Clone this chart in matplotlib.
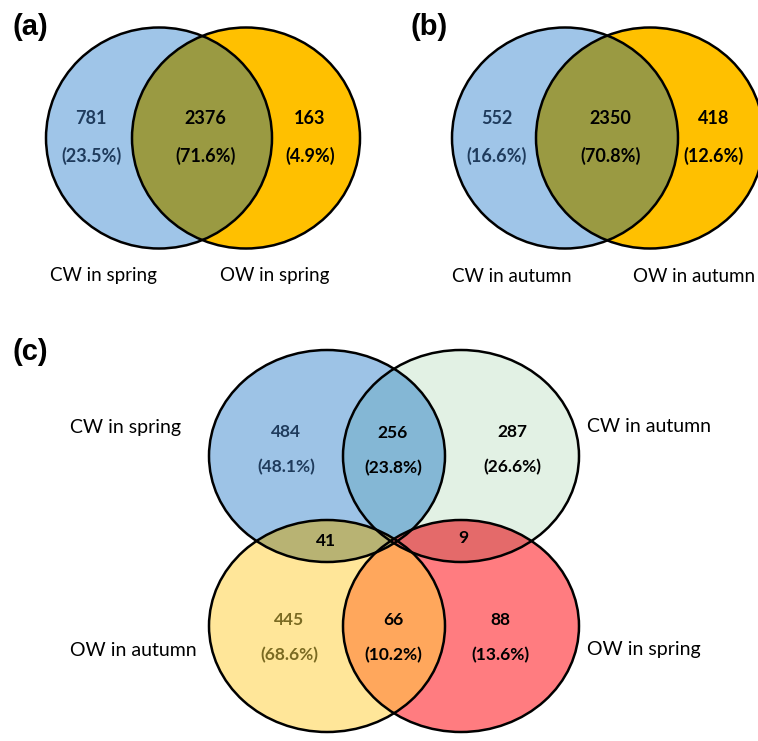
import matplotlib.pyplot as plt
from matplotlib.patches import Ellipse

# ---- data ----
a_sets = ["CW in spring", "OW in spring"]
a_counts = [781, 2376, 163]
a_pcts = ["23.5%", "71.6%", "4.9%"]

b_sets = ["CW in autumn", "OW in autumn"]
b_counts = [552, 2350, 418]
b_pcts = ["16.6%", "70.8%", "12.6%"]

c_sets = ["CW in spring", "CW in autumn", "OW in autumn", "OW in spring"]
c_counts = [484, 256, 287, 41, 9, 445, 66, 88]
c_pcts = ["48.1%", "23.8%", "26.6%", None, None, "68.6%", "10.2%", "13.6%"]

W, H = 758, 741
fig = plt.figure(figsize=(W / 100, H / 100), dpi=100)
ax = fig.add_axes([0, 0, 1, 1])
ax.set_xlim(0, W)
ax.set_ylim(H, 0)
ax.axis('off')

FONT = ['Lato', 'DejaVu Sans']
TAG = ['Liberation Sans', 'DejaVu Sans']


def ell(xy, w, h, **kw):
    e = Ellipse(xy, w, h, **kw)
    ax.add_patch(e)
    return e


def overlap(e1, e2, color):
    """fill the lens of two ellipses by clipping one with the other"""
    lens = Ellipse(e1.center, e1.width, e1.height, facecolor=color,
                   edgecolor='none', zorder=2)
    ax.add_patch(lens)
    lens.set_clip_path(e2)


def outline(e, color='black'):
    ax.add_patch(Ellipse(e.center, e.width, e.height, facecolor='none',
                         edgecolor=color, linewidth=1.8, zorder=4))


def two_set(cx, labels, label_x, counts, pcts, tag, tag_x):
    left = ell((cx[0], 138), 226, 221, facecolor='#9FC5E8', edgecolor='none', zorder=1)
    right = ell((cx[1], 138), 228, 221, facecolor='#FFC000', edgecolor='none', zorder=1)
    overlap(left, right, '#9A9A42')
    outline(left)
    outline(right)
    xs = [cx[0] - 68, (cx[0] + cx[1]) / 2 + 3, cx[1] + 64]
    cols = ['#1F3B5C', 'black', 'black']
    for x, n, p, c in zip(xs, counts, pcts, cols):
        ax.text(x, 119, str(n), ha='center', va='center', fontsize=13,
                fontweight='bold', color=c, family=FONT, zorder=5)
        ax.text(x, 156, "(" + p + ")", ha='center', va='center', fontsize=13,
                fontweight='bold', color=c, family=FONT, zorder=5)
    for lx, s in zip(label_x, labels):
        ax.text(lx, 276, s, ha='left', va='center', fontsize=13.5, family=FONT)
    ax.text(tag_x, 27, tag, ha='left', va='center', fontsize=21,
            fontweight='bold', family=TAG)


two_set([159, 246], a_sets, [50, 220], a_counts, a_pcts, "(a)", 12)
two_set([565, 650], b_sets, [452, 633], b_counts, b_pcts, "(b)", 411)

# ---- panel c ----
rx, ry = 236, 212
tl = ell((327, 456), rx, ry, facecolor='#9DC3E6', edgecolor='none', zorder=1)
tr = ell((461, 456), rx, ry, facecolor='#E2F1E4', edgecolor='none', zorder=1)
bl = ell((327, 626), rx, ry, facecolor='#FFE699', edgecolor='none', zorder=1)
br = ell((461, 626), rx, ry, facecolor='#FF7C80', edgecolor='none', zorder=1)
overlap(tl, tr, '#84B7D5')
overlap(bl, br, '#FFA75C')
overlap(tl, bl, '#B8B373')
overlap(tr, br, '#E46A6A')
for e in (tl, tr, bl, br):
    outline(e)

c_pos = [(286, 432), (393, 433), (512, 432), (326, 541), (463, 538),
         (289, 620), (393, 620), (500, 620)]
c_cols = ['#1F3B5C', 'black', 'black', 'black', 'black',
          '#7A6A22', 'black', 'black']
for (x, y), n, p, c in zip(c_pos, c_counts, c_pcts, c_cols):
    ax.text(x, y, str(n), ha='center', va='center', fontsize=12.5,
            fontweight='bold', color=c, family=FONT, zorder=5)
    if p:
        ax.text(x, y + 35, "(" + p + ")", ha='center', va='center', fontsize=12.5,
                fontweight='bold', color=c, family=FONT, zorder=5)

lab_pos = [(70, 427), (587, 426), (70, 650), (587, 649)]
for (x, y), s in zip(lab_pos, c_sets):
    ax.text(x, y, s, ha='left', va='center', fontsize=14, family=FONT)

ax.text(12, 352, "(c)", ha='left', va='center', fontsize=21,
        fontweight='bold', family=TAG)

fig.savefig('out.png', dpi=100)
